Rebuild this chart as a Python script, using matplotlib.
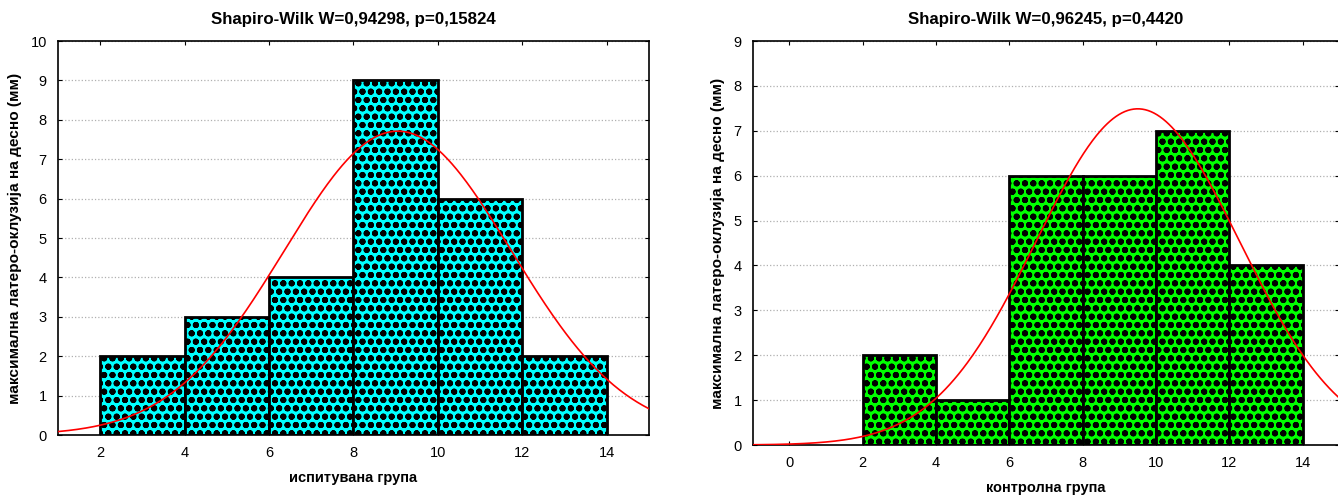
import numpy as np
import matplotlib.pyplot as plt

plt.rcParams['font.family'] = ['Liberation Sans', 'DejaVu Sans']
plt.rcParams['hatch.linewidth'] = 2.0

# histogram bins (left edges) and counts for both groups
bin_edges = [2, 4, 6, 8, 10, 12]
bin_width = 2
test_counts = [2, 3, 4, 9, 6, 2]
control_counts = [2, 1, 6, 6, 7, 4]

# fitted normal curves (mean, sd)
test_fit = (9.05, 2.69)
control_fit = (9.5, 2.77)

test_title = 'Shapiro-Wilk W=0,94298, p=0,15824'
control_title = 'Shapiro-Wilk W=0,96245, p=0,4420'
ylabel = 'максимална латеро-оклузија на десно (мм)'


def hist_panel(ax, counts, fit, color, xlim, ylim, xticks, title, xlabel):
    n = sum(counts)
    ax.bar(bin_edges, counts, width=bin_width, align='edge', color=color,
           edgecolor='black', linewidth=2, hatch='oo', zorder=2)
    xs = np.linspace(xlim[0], xlim[1], 400)
    mu, sd = fit
    ys = n * bin_width * np.exp(-0.5 * ((xs - mu) / sd) ** 2) / (sd * np.sqrt(2 * np.pi))
    ax.plot(xs, ys, color='red', linewidth=1.2, zorder=3)

    ax.set_xlim(*xlim)
    ax.set_ylim(*ylim)
    ax.set_xticks(xticks)
    ax.set_yticks(range(ylim[0], ylim[1] + 1))
    ax.yaxis.grid(True, linestyle=':', color='#b0b0b0', linewidth=0.9, zorder=0)
    ax.set_axisbelow(True)
    ax.tick_params(direction='in', length=3, top=True, right=True,
                   labelsize=10.5, pad=8)
    for s in ax.spines.values():
        s.set_linewidth(1.2)
    ax.set_title(title, fontsize=12.2, fontweight='bold', pad=12)
    ax.set_xlabel(xlabel, fontsize=10.5, fontweight='bold', labelpad=8)
    ax.set_ylabel(ylabel, fontsize=11.1, fontweight='bold', labelpad=6)


fig = plt.figure(figsize=(13.38, 4.97), dpi=100)
ax1 = fig.add_axes([0.0433, 0.1247, 0.4417, 0.7928])
ax2 = fig.add_axes([0.5626, 0.1046, 0.4385, 0.8129])

hist_panel(ax1, test_counts, test_fit, '#00ffff', (1, 15), (0, 10),
           range(2, 15, 2), test_title, 'испитувана група')
hist_panel(ax2, control_counts, control_fit, '#00ff00', (-1, 15), (0, 9),
           range(0, 15, 2), control_title, 'контролна група')

fig.savefig('out.png', dpi=100)
